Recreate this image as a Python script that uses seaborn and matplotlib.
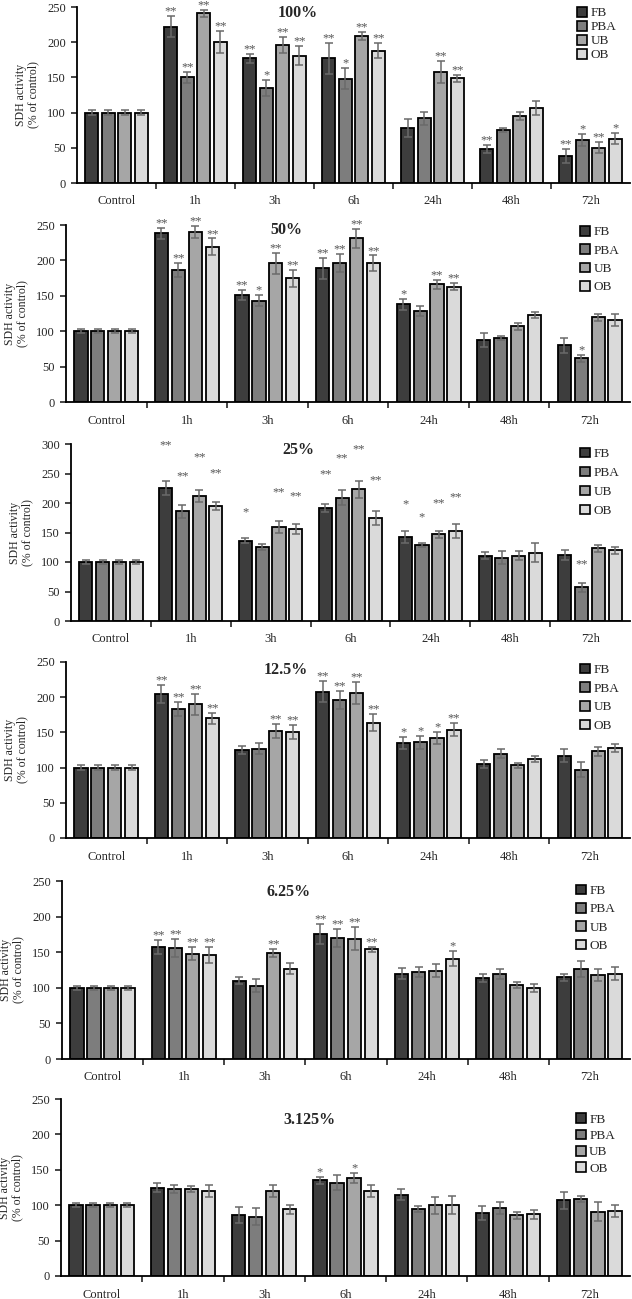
import numpy as np
import pandas as pd
import matplotlib
matplotlib.use("Agg")
import matplotlib.pyplot as plt
from matplotlib.patches import Patch
import seaborn as sns

groups = ["Control", "1h", "3h", "6h", "24h", "48h", "72h"]
treatments = ["FB", "PBA", "UB", "OB"]
colors = ["#3d3d3d", "#7d7d7d", "#a6a6a6", "#dadada"]

# rows: FB, PBA, UB, OB
mean_100 = [[100, 222, 177, 177, 78, 48, 38],
            [100, 150, 135, 148, 92, 75, 61],
            [100, 241, 196, 209, 158, 95, 50],
            [100, 200, 181, 188, 149, 107, 63]]
err_100 = [[3, 15, 6, 22, 13, 6, 10],
           [3, 8, 11, 15, 9, 3, 8],
           [3, 5, 12, 6, 16, 6, 8],
           [3, 16, 13, 11, 5, 10, 8]]
stars_100 = [["", "**", "**", "**", "", "**", "**"],
             ["", "**", "*", "*", "", "", "*"],
             ["", "**", "**", "**", "**", "", "**"],
             ["", "**", "**", "**", "**", "", "*"]]

mean_50 = [[100, 238, 151, 189, 138, 87, 80],
           [100, 186, 143, 196, 128, 90, 62],
           [100, 240, 196, 231, 166, 107, 120],
           [100, 219, 175, 196, 163, 123, 116]]
err_50 = [[3, 8, 7, 15, 8, 10, 11],
          [3, 10, 8, 13, 7, 3, 5],
          [3, 9, 15, 14, 6, 5, 5],
          [3, 12, 12, 11, 5, 4, 8]]
stars_50 = [["", "**", "**", "**", "*", "", ""],
            ["", "**", "*", "**", "", "", "*"],
            ["", "**", "**", "**", "**", "", ""],
            ["", "**", "**", "**", "**", "", ""]]

mean_25 = [[100, 226, 136, 191, 142, 111, 112],
           [100, 186, 125, 209, 129, 107, 57],
           [100, 212, 160, 223, 147, 111, 123],
           [100, 195, 156, 175, 153, 116, 120]]
err_25 = [[3, 12, 4, 7, 10, 6, 9],
          [3, 11, 5, 13, 4, 11, 7],
          [3, 10, 10, 15, 6, 7, 6],
          [3, 7, 9, 12, 12, 16, 6]]
stars_25 = [["", "**", "*", "**", "*", "", ""],
            ["", "**", "", "**", "*", "", "**"],
            ["", "**", "**", "**", "**", "", ""],
            ["", "**", "**", "**", "**", "", ""]]
# the 25% panel prints its asterisks at these heights
star_level_25 = [[0, 298, 185, 249, 197, 0, 0],
                 [0, 246, 0, 276, 176, 0, 96],
                 [0, 277, 218, 291, 199, 0, 0],
                 [0, 251, 212, 238, 209, 0, 0]]

mean_12 = [[100, 205, 125, 208, 135, 105, 117],
           [100, 183, 127, 196, 136, 120, 97],
           [100, 190, 152, 206, 142, 103, 123],
           [100, 170, 151, 164, 154, 112, 128]]
err_12 = [[3, 13, 5, 15, 8, 6, 9],
          [3, 10, 8, 13, 9, 6, 11],
          [3, 15, 10, 15, 9, 4, 6],
          [3, 8, 10, 12, 9, 4, 6]]
stars_12 = [["", "**", "", "**", "*", "", ""],
            ["", "**", "", "**", "*", "", ""],
            ["", "**", "**", "**", "*", "", ""],
            ["", "**", "**", "**", "**", "", ""]]

mean_6 = [[100, 157, 110, 175, 120, 114, 115],
          [100, 156, 103, 170, 122, 119, 126],
          [100, 148, 149, 169, 124, 104, 118],
          [100, 146, 127, 154, 141, 100, 120]]
err_6 = [[3, 10, 5, 14, 8, 6, 5],
         [3, 13, 9, 12, 7, 7, 11],
         [3, 9, 6, 16, 9, 4, 9],
         [3, 11, 8, 4, 11, 6, 9]]
stars_6 = [["", "**", "", "**", "", "", ""],
           ["", "**", "", "**", "", "", ""],
           ["", "**", "**", "**", "", "", ""],
           ["", "**", "", "**", "*", "", ""]]

mean_3 = [[100, 125, 86, 135, 115, 89, 107],
          [100, 123, 84, 132, 95, 96, 109],
          [100, 123, 120, 139, 100, 86, 91],
          [100, 120, 94, 120, 100, 87, 92]]
err_3 = [[3, 7, 11, 5, 8, 10, 12],
         [3, 6, 12, 10, 4, 8, 4],
         [3, 4, 8, 7, 12, 5, 13],
         [3, 9, 6, 8, 13, 6, 8]]
stars_3 = [["", "", "", "*", "", "", ""],
           ["", "", "", "", "", "", ""],
           ["", "", "", "*", "", "", ""],
           ["", "", "", "", "", "", ""]]

titles = ["100%", "50%", "25%", "12.5%", "6.25%", "3.125%"]

panels = [
    (mean_100, err_100, stars_100, None),
    (mean_50, err_50, stars_50, None),
    (mean_25, err_25, stars_25, star_level_25),
    (mean_12, err_12, stars_12, None),
    (mean_6, err_6, stars_6, None),
    (mean_3, err_3, stars_3, None),
]

# layout (pixels of the 632x1299 image)
W, H = 632, 1299
lefts = [77, 66, 71, 66, 62, 61]
tops = [7, 225, 444, 662, 881, 1099]
bottoms = [183, 402, 621, 838, 1059, 1276]
right = 630
ymaxes = [250, 250, 300, 250, 250, 250]
title_pos = [(0.40, 0.966), (0.39, 0.97), (0.406, 0.966), (0.39, 0.955), (0.398, 0.94), (0.437, 0.88)]
legend_pos = [(0.905, 1.0), (0.912, 0.995), (0.911, 0.98), (0.912, 0.99), (0.905, 0.98), (0.905, 0.92)]
legend_spacing = [0.12, 0.45, 0.5, 0.47, 0.45, 0.3]

sns.set_style("ticks")
plt.rcParams["font.family"] = ["Liberation Serif", "DejaVu Serif"]

fig = plt.figure(figsize=(W / 100, H / 100), dpi=100)

for i, (means, errs, stars, levels) in enumerate(panels):
    width_px = right - lefts[i]
    ax = fig.add_axes([lefts[i] / W, 1 - bottoms[i] / H,
                       width_px / W, (bottoms[i] - tops[i]) / H])

    rows = []
    for t, tname in enumerate(treatments):
        for g, gname in enumerate(groups):
            rows.append({"time": gname, "treatment": tname, "value": means[t][g]})
    df = pd.DataFrame(rows)

    sns.barplot(data=df, x="time", y="value", hue="treatment", order=groups,
                hue_order=treatments, palette=colors, width=0.84, gap=0.22,
                edgecolor="black", linewidth=1.3, errorbar=None, legend=False, ax=ax)

    bar_sets = list(ax.containers)[:len(treatments)]
    for t, cont in enumerate(bar_sets):
        xs = [b.get_x() + b.get_width() / 2 for b in cont]
        ax.errorbar(xs, means[t], yerr=errs[t], fmt="none", ecolor="#6a6a6a",
                    elinewidth=1.1, capsize=2.6, capthick=1.1, zorder=5)
        for g, x in enumerate(xs):
            s = stars[t][g]
            if not s:
                continue
            if levels is not None:
                ax.text(x, levels[t][g], s, ha="center", va="center",
                        fontsize=9, color="#555555")
            else:
                ax.annotate(s, (x, means[t][g] + errs[t][g]), xytext=(0, -1),
                            textcoords="offset points", ha="center", va="bottom",
                            fontsize=9, color="#555555")

    ax.set_xlim(-0.5, len(groups) - 0.5)
    ax.set_ylim(0, ymaxes[i])
    ax.set_yticks(np.arange(0, ymaxes[i] + 1, 50))
    ax.set_xticks(range(len(groups)))
    ax.set_xticklabels(groups)
    ax.set_xticks(np.arange(0.5, len(groups) - 1, 1), minor=True)
    ax.tick_params(axis="x", which="major", length=0, pad=9, labelsize=9)
    ax.tick_params(axis="x", which="minor", length=4, width=1.2, direction="out")
    ax.tick_params(axis="y", length=4, width=1.2, direction="out", labelsize=9, pad=4)
    ax.set_xlabel("")
    ax.set_ylabel("SDH activity\n(% of control)", fontsize=8.5, linespacing=1.05)
    ax.yaxis.set_label_coords(-38 / width_px, 0.5)
    for sp in ["left", "bottom"]:
        ax.spines[sp].set_linewidth(1.3)
        ax.spines[sp].set_color("black")
    sns.despine(ax=ax)

    ax.text(title_pos[i][0], title_pos[i][1], titles[i], transform=ax.transAxes,
            ha="center", va="center", fontsize=11.5, fontweight="bold")

    handles = [Patch(facecolor=c, edgecolor="black", linewidth=1.2) for c in colors]
    ax.legend(handles, treatments, loc="upper left", bbox_to_anchor=legend_pos[i],
              frameon=False, fontsize=9.5, handlelength=0.75, handleheight=0.75,
              handletextpad=0.25, labelspacing=legend_spacing[i], borderaxespad=0,
              borderpad=0)

fig.savefig("out.png", dpi=100)
